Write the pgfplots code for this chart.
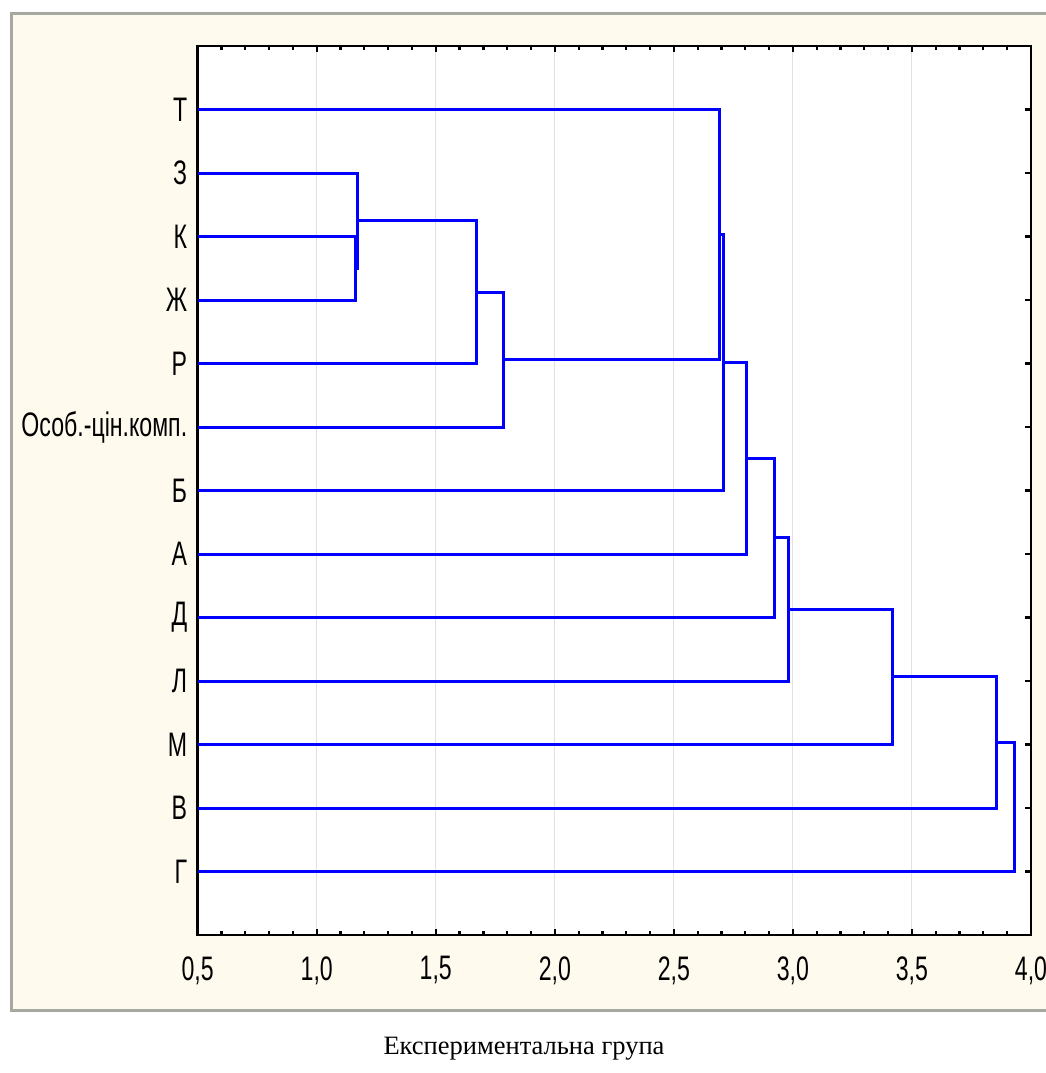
\documentclass[border=0pt]{standalone}
\usepackage{fontspec}
\setmainfont{Liberation Serif}
\newfontfamily\narrow[FakeStretch=0.68]{Liberation Sans}
\usepackage{pgfplots}
\pgfplotsset{compat=1.18}
\definecolor{cream}{RGB}{254,250,238}
\definecolor{panelgray}{RGB}{168,168,162}
\definecolor{dblue}{RGB}{0,0,255}
\definecolor{gridgray}{RGB}{225,225,225}
\begin{document}
\begin{tikzpicture}
\useasboundingbox (0pt,0pt) rectangle (1046pt,1073pt);
\fill[white] (0pt,0pt) rectangle (1046pt,1073pt);
\filldraw[fill=cream, draw=panelgray, line width=3pt] (11.5pt,62.5pt) rectangle (1060pt,1059.5pt);
\begin{axis}[
  at={(197.7pt,138pt)}, anchor=south west,
  scale only axis, width=833.3pt, height=889pt,
  xmin=0.5, xmax=4.0, ymin=0, ymax=14, y dir=reverse,
  axis background/.style={fill=white},
  axis line style={line width=2.4pt, black},
  xtick={0.5,1.0,1.5,2.0,2.5,3.0,3.5,4.0},
  xticklabels={{0,5},{1,0},{1,5},{2,0},{2,5},{3,0},{3,5},{4,0}},
  minor x tick num=4,
  ytick={1,...,13},
  yticklabels={Т,З,К,Ж,Р,Особ.-цін.комп.,Б,А,Д,Л,М,В,Г},
  tick align=inside,
  major tick length=6pt, minor tick length=4pt,
  tick style={line width=2.2pt, black},
  xmajorgrids, grid style={gridgray, line width=1pt},
  ticklabel style={font=\narrow\fontsize{34}{38}\selectfont},
  xticklabel style={yshift=-18pt},
  yticklabel style={xshift=-7pt},
]
\addplot[dblue, line width=3pt] coordinates {(0.5,3)(1.164,3)(1.164,4)(0.5,4)};
\addplot[dblue, line width=3pt] coordinates {(0.5,2)(1.173,2)(1.173,3.5)(1.164,3.5)};
\addplot[dblue, line width=3pt] coordinates {(1.173,2.75)(1.669,2.75)(1.669,5)(0.5,5)};
\addplot[dblue, line width=3pt] coordinates {(1.669,3.875)(1.785,3.875)(1.785,6)(0.5,6)};
\addplot[dblue, line width=3pt] coordinates {(0.5,1)(2.693,1)(2.693,4.9375)(1.785,4.9375)};
\addplot[dblue, line width=3pt] coordinates {(2.693,2.96875)(2.709,2.96875)(2.709,7)(0.5,7)};
\addplot[dblue, line width=3pt] coordinates {(2.709,4.984375)(2.804,4.984375)(2.804,8)(0.5,8)};
\addplot[dblue, line width=3pt] coordinates {(2.804,6.4921875)(2.923,6.4921875)(2.923,9)(0.5,9)};
\addplot[dblue, line width=3pt] coordinates {(2.923,7.74609)(2.981,7.74609)(2.981,10)(0.5,10)};
\addplot[dblue, line width=3pt] coordinates {(2.981,8.87305)(3.418,8.87305)(3.418,11)(0.5,11)};
\addplot[dblue, line width=3pt] coordinates {(3.418,9.93652)(3.853,9.93652)(3.853,12)(0.5,12)};
\addplot[dblue, line width=3pt] coordinates {(3.853,10.96826)(3.930,10.96826)(3.930,13)(0.5,13)};
\end{axis}
\node[font=\fontsize{26.5}{30}\selectfont, anchor=base] at (524pt,18pt) {Експериментальна група};
\end{tikzpicture}
\end{document}
